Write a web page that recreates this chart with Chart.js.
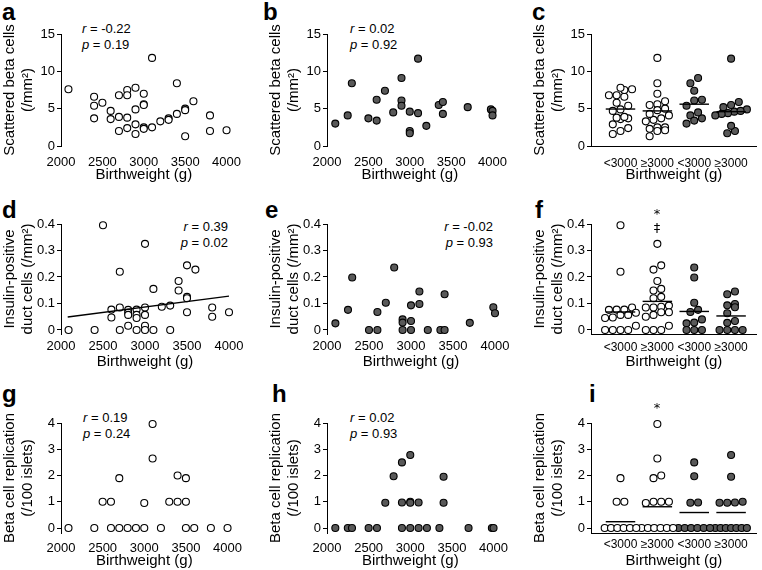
<!DOCTYPE html>
<html>
<head>
<meta charset="utf-8">
<script src="https://cdn.jsdelivr.net/npm/chart.js@4"></script>
<style>
body { margin: 0; background: #fff; width: 762px; height: 570px; position: relative; overflow: hidden; font-family: "Liberation Sans", Arial, sans-serif; color: #000; }
canvas { position: absolute; }
.lab { position: absolute; font-weight: bold; font-size: 24px; line-height: 24px; }
.st { position: absolute; font-size: 13px; line-height: 16px; white-space: nowrap; }
.st.r { text-align: right; }
.mk { position: absolute; width: 20px; text-align: center; font-size: 13px; line-height: 14px; color: #000; font-family: "DejaVu Sans", sans-serif; will-change: transform; }
</style>
</head>
<body>
<div class="lab" style="left:2px;top:0px">a</div>
<div class="lab" style="left:263px;top:0px">b</div>
<div class="lab" style="left:532px;top:0px">c</div>
<div class="lab" style="left:2px;top:198px">d</div>
<div class="lab" style="left:265px;top:198px">e</div>
<div class="lab" style="left:535px;top:198px">f</div>
<div class="lab" style="left:2px;top:382px">g</div>
<div class="lab" style="left:272px;top:382px">h</div>
<div class="lab" style="left:589px;top:382px">i</div>

<div class="st" style="left:82px;top:21px"><i>r</i> = -0.22<br><i>p</i> = 0.19</div>
<div class="st" style="left:350px;top:21px"><i>r</i> = 0.02<br><i>p</i> = 0.92</div>
<div class="st r" style="right:534px;top:219px"><i>r</i> = 0.39<br><i>p</i> = 0.02</div>
<div class="st r" style="right:269px;top:219px"><i>r</i> = -0.02<br><i>p</i> = 0.93</div>
<div class="st" style="left:83px;top:410px"><i>r</i> = 0.19<br><i>p</i> = 0.24</div>
<div class="st" style="left:350px;top:410px"><i>r</i> = 0.02<br><i>p</i> = 0.93</div>

<div class="mk" style="left:647px;top:207px">*</div>
<div class="mk" style="left:647px;top:221px">‡</div>
<div class="mk" style="left:647px;top:401px">*</div>

<script>
Chart.defaults.font.family = '"Liberation Sans", Arial, sans-serif'
Chart.defaults.color = '#000'

// scattered beta cells (/mm2)
const bwA = [2090, 2400, 2400, 2400, 2500, 2600, 2600, 2700, 2700, 2700, 2800, 2800, 2800, 2800, 2900, 2900, 2900, 2900, 3000, 3000, 3000, 3000, 3000, 3100, 3100, 3200, 3300, 3300, 3400, 3400, 3500, 3500, 3500, 3600, 3800, 3800, 4000]
const betaA = [7.6, 6.6, 5.4, 3.7, 5.8, 4.7, 3.6, 6.8, 3.9, 2.0, 7.5, 6.8, 3.8, 2.4, 7.8, 4.9, 2.9, 1.6, 7.0, 5.6, 5.5, 2.5, 2.3, 11.8, 2.5, 3.3, 3.7, 3.5, 8.4, 4.3, 5.0, 4.8, 1.3, 6.0, 4.1, 2.0, 2.1]
const bwB = [2100, 2250, 2300, 2500, 2600, 2600, 2700, 2800, 2900, 2900, 2900, 3000, 3000, 3000, 3100, 3100, 3200, 3350, 3400, 3400, 3700, 3980, 4000, 4000]
const betaB = [3.0, 4.1, 8.4, 3.7, 6.2, 3.4, 7.4, 4.5, 9.1, 6.1, 5.4, 4.6, 2.0, 1.7, 11.7, 4.4, 2.7, 5.5, 5.9, 4.3, 5.2, 4.9, 4.7, 4.1]

// insulin-positive duct cells (/mm2)
const bwD = [2090, 2400, 2500, 2600, 2600, 2700, 2700, 2700, 2800, 2800, 2800, 2800, 2900, 2900, 2900, 2900, 3000, 3000, 3000, 3000, 3000, 3100, 3100, 3200, 3300, 3300, 3400, 3400, 3500, 3500, 3500, 3500, 3600, 3800, 3800, 4000]
const ductD = [0, 0, 0.395, 0.077, 0.047, 0.22, 0.085, 0, 0.076, 0.065, 0.057, 0.016, 0.077, 0.057, 0.045, 0, 0.325, 0.085, 0.057, 0.016, 0, 0.155, 0, 0.088, 0.092, 0, 0.185, 0.149, 0.244, 0.125, 0.12, 0.067, 0.228, 0.085, 0.05, 0.067]
const bwE = [2100, 2250, 2300, 2500, 2600, 2600, 2700, 2800, 2900, 2900, 2900, 3000, 3000, 3000, 3100, 3100, 3200, 3350, 3400, 3400, 3700, 3980, 4000]
const ductE = [0.025, 0.076, 0.198, 0, 0.068, 0, 0.103, 0.236, 0.04, 0.028, 0, 0.093, 0.034, 0, 0.145, 0.098, 0, 0, 0.135, 0, 0.027, 0.086, 0.063]
const trendBw = [2080, 4000]
const trendDuct = [0.049, 0.128]

// beta cell replication (/100 islets)
const bwG = [2090, 2400, 2500, 2600, 2600, 2700, 2700, 2800, 2900, 3000, 3000, 3100, 3100, 3200, 3300, 3400, 3400, 3500, 3500, 3500, 3600, 3800, 4000]
const repG = [0, 0, 1, 1, 0, 1.9, 0, 0, 0, 0.95, 0, 3.96, 2.65, 0, 1, 2.0, 1, 1.9, 1, 0, 0, 0, 0]
const bwH = [2100, 2250, 2300, 2500, 2600, 2700, 2800, 2900, 2900, 2900, 3000, 3000, 3000, 3000, 3100, 3100, 3200, 3350, 3400, 3400, 3700, 3980, 4000]
const repH = [0, 0, 0, 0, 0, 0.96, 1.97, 2.5, 0.97, 0, 2.78, 1, 0.96, 0, 0.97, 0, 0, 0, 1.95, 0.96, 0, 0, 0]

// group means (lines in c, f, i)
const groups = ['<3000', '≥3000', '<3000', '≥3000']
const meanC = [4.95, 4.7, 5.6, 4.6]
const meanF = [0.068, 0.108, 0.07, 0.053]
const meanI = [0.24, 0.81, 0.59, 0.59]

const bwTicks = [2000, 2500, 3000, 3500, 4000]
const betaTicks = [0, 5, 10, 15]
const ductTicks = [0, 0.1, 0.2, 0.3, 0.4]
const repTicks = [0, 1, 2, 3, 4]

const COLX = [0, 266, 530]
const COLW = [250, 250, 232]
const AXL = 61, AXR = 229
const rows = [
    { cy: 0, top: 34, bottom: 146, min: 0, max: 15, ticks: betaTicks, title: ['Scattered beta cells', '(/mm²)'], xpad: 10, xpad3: 10, tpad: 6 },
    { cy: 190, top: 34, bottom: 144, min: -0.0151, max: 0.4, ticks: ductTicks, title: ['Insulin-positive', 'duct cells (/mm²)'], xpad: 6, xpad3: 6, tpad: 9 },
    { cy: 380, top: 43, bottom: 153, min: -0.19, max: 4, ticks: repTicks, title: ['Beta cell replication', '(/100 islets)'], xpad: 9, xpad3: 4, tpad: 0 }
]

const openPt = { pointRadius: 3.5, pointBackgroundColor: '#fff', pointBorderColor: '#000', pointBorderWidth: 1.1 }
const fillPt = { pointRadius: 3.5, pointBackgroundColor: '#595959', pointBorderColor: '#000', pointBorderWidth: 1.1 }

// spread points of one group sideways, row by row (GraphPad-like)
const swarm = (vals, pxPerUnit, pxPerCat) => {
    const d = 7
    const order = vals.map((v, i) => i).sort((a, b) => vals[a] - vals[b])
    const offs = vals.map(() => 0)
    const bins = []
    order.forEach(i => {
        const py = vals[i] * pxPerUnit
        let bin = bins[bins.length - 1]
        if (!bin || py - bin.py0 >= d * 0.9) {
            bin = { py0: py, idx: [] }
            bins.push(bin)
        }
        bin.idx.push(i)
    })
    bins.forEach(bin => {
        const n = bin.idx.length
        const step = n > 1 ? Math.min(d + 0.8, 32 / (n - 1)) : 0
        bin.idx.forEach((i, k) => { offs[i] = (k - (n - 1) / 2) * step / pxPerCat })
    })
    return offs
}

const xyData = (xs, ys) => xs.map((x, i) => ({ x, y: ys[i] }))

const yScale = row => ({
    type: 'linear', min: row.min, max: row.max,
    afterBuildTicks: s => { s.ticks = row.ticks.map(v => ({ value: v })) },
    afterFit: s => { s.width = AXL },
    grid: { drawOnChartArea: false, color: '#000', tickLength: 4 },
    border: { color: '#000', width: 1 },
    ticks: { font: { size: 13 }, padding: 2 },
    title: { display: true, text: row.title, font: { size: 15 }, padding: { top: 1 } }
})

const bwScale = row => ({
    type: 'linear', min: 2000, max: 4000,
    afterBuildTicks: s => { s.ticks = bwTicks.map(v => ({ value: v })) },
    afterFit: s => { s.height = 190 - row.bottom },
    grid: { display: false, drawTicks: false },
    border: { display: false },
    ticks: { font: { size: 13 }, padding: row.xpad - 1, maxRotation: 0, callback: v => String(v) },
    title: { display: true, text: 'Birthweight (g)', font: { size: 15 }, padding: { bottom: row.tpad } }
})

const groupScale = row => ({
    type: 'linear', min: -0.8, max: 3.7,
    afterBuildTicks: s => { s.ticks = groups.map((g, i) => ({ value: i })) },
    afterFit: s => { s.height = 190 - row.bottom },
    grid: { display: false, drawTicks: false },
    border: { display: true, color: '#000', width: 1 },
    ticks: { font: { size: 12 }, padding: row.xpad3, maxRotation: 0, autoSkip: false, callback: v => groups[v] },
    title: { display: true, text: 'Birthweight (g)', font: { size: 15 }, padding: { bottom: row.tpad } }
})

const panel = (col, row, datasets, xScale) => {
    const cv = document.createElement('canvas')
    cv.width = COLW[col]
    cv.height = 190
    cv.style.left = COLX[col] + 'px'
    cv.style.top = row.cy + 'px'
    document.body.appendChild(cv)
    new Chart(cv, {
        type: 'scatter',
        data: { datasets },
        options: {
            responsive: false,
            animation: false,
            devicePixelRatio: 1,
            layout: { padding: { top: row.top, right: COLW[col] - AXR, left: 0, bottom: 0 } },
            plugins: { legend: { display: false }, tooltip: { enabled: false } },
            scales: { x: xScale(row), y: yScale(row) }
        }
    })
}

const groupPanel = (row, open, filled, means) => {
    const pxPerUnit = (row.bottom - row.top) / (row.max - row.min)
    const pxPerCat = (AXR - AXL) / 4.5
    const sets = []
    groups.forEach((g, gi) => {
        sets.push({
            type: 'line', order: 0,
            data: [{ x: gi - 0.4, y: means[gi] }, { x: gi + 0.4, y: means[gi] }],
            borderColor: '#000', borderWidth: 1.4, pointRadius: 0
        })
    })
    const split = [
        [open, v => v < 3000, openPt], [open, v => v >= 3000, openPt],
        [filled, v => v < 3000, fillPt], [filled, v => v >= 3000, fillPt]
    ]
    split.forEach(([src, test, style], gi) => {
        const vals = src[1].filter((v, i) => test(src[0][i]))
        const offs = swarm(vals, pxPerUnit, pxPerCat)
        sets.push({ order: 1, clip: false, data: vals.map((v, i) => ({ x: gi + offs[i], y: v })), ...style })
    })
    return sets
}

// row 1
panel(0, rows[0], [{ clip: false, data: xyData(bwA, betaA), ...openPt }], bwScale)
panel(1, rows[0], [{ clip: false, data: xyData(bwB, betaB), ...fillPt }], bwScale)
panel(2, rows[0], groupPanel(rows[0], [bwA, betaA], [bwB, betaB], meanC), groupScale)

// row 2
panel(0, rows[1], [
    { type: 'line', order: 0, data: xyData(trendBw, trendDuct), borderColor: '#000', borderWidth: 1.3, pointRadius: 0 },
    { order: 1, clip: false, data: xyData(bwD, ductD), ...openPt }
], bwScale)
panel(1, rows[1], [{ clip: false, data: xyData(bwE, ductE), ...fillPt }], bwScale)
panel(2, rows[1], groupPanel(rows[1], [bwD, ductD], [bwE, ductE], meanF), groupScale)

// row 3
panel(0, rows[2], [{ clip: false, data: xyData(bwG, repG), ...openPt }], bwScale)
panel(1, rows[2], [{ clip: false, data: xyData(bwH, repH), ...fillPt }], bwScale)
panel(2, rows[2], groupPanel(rows[2], [bwG, repG], [bwH, repH], meanI), groupScale)
</script>
</body>
</html>
